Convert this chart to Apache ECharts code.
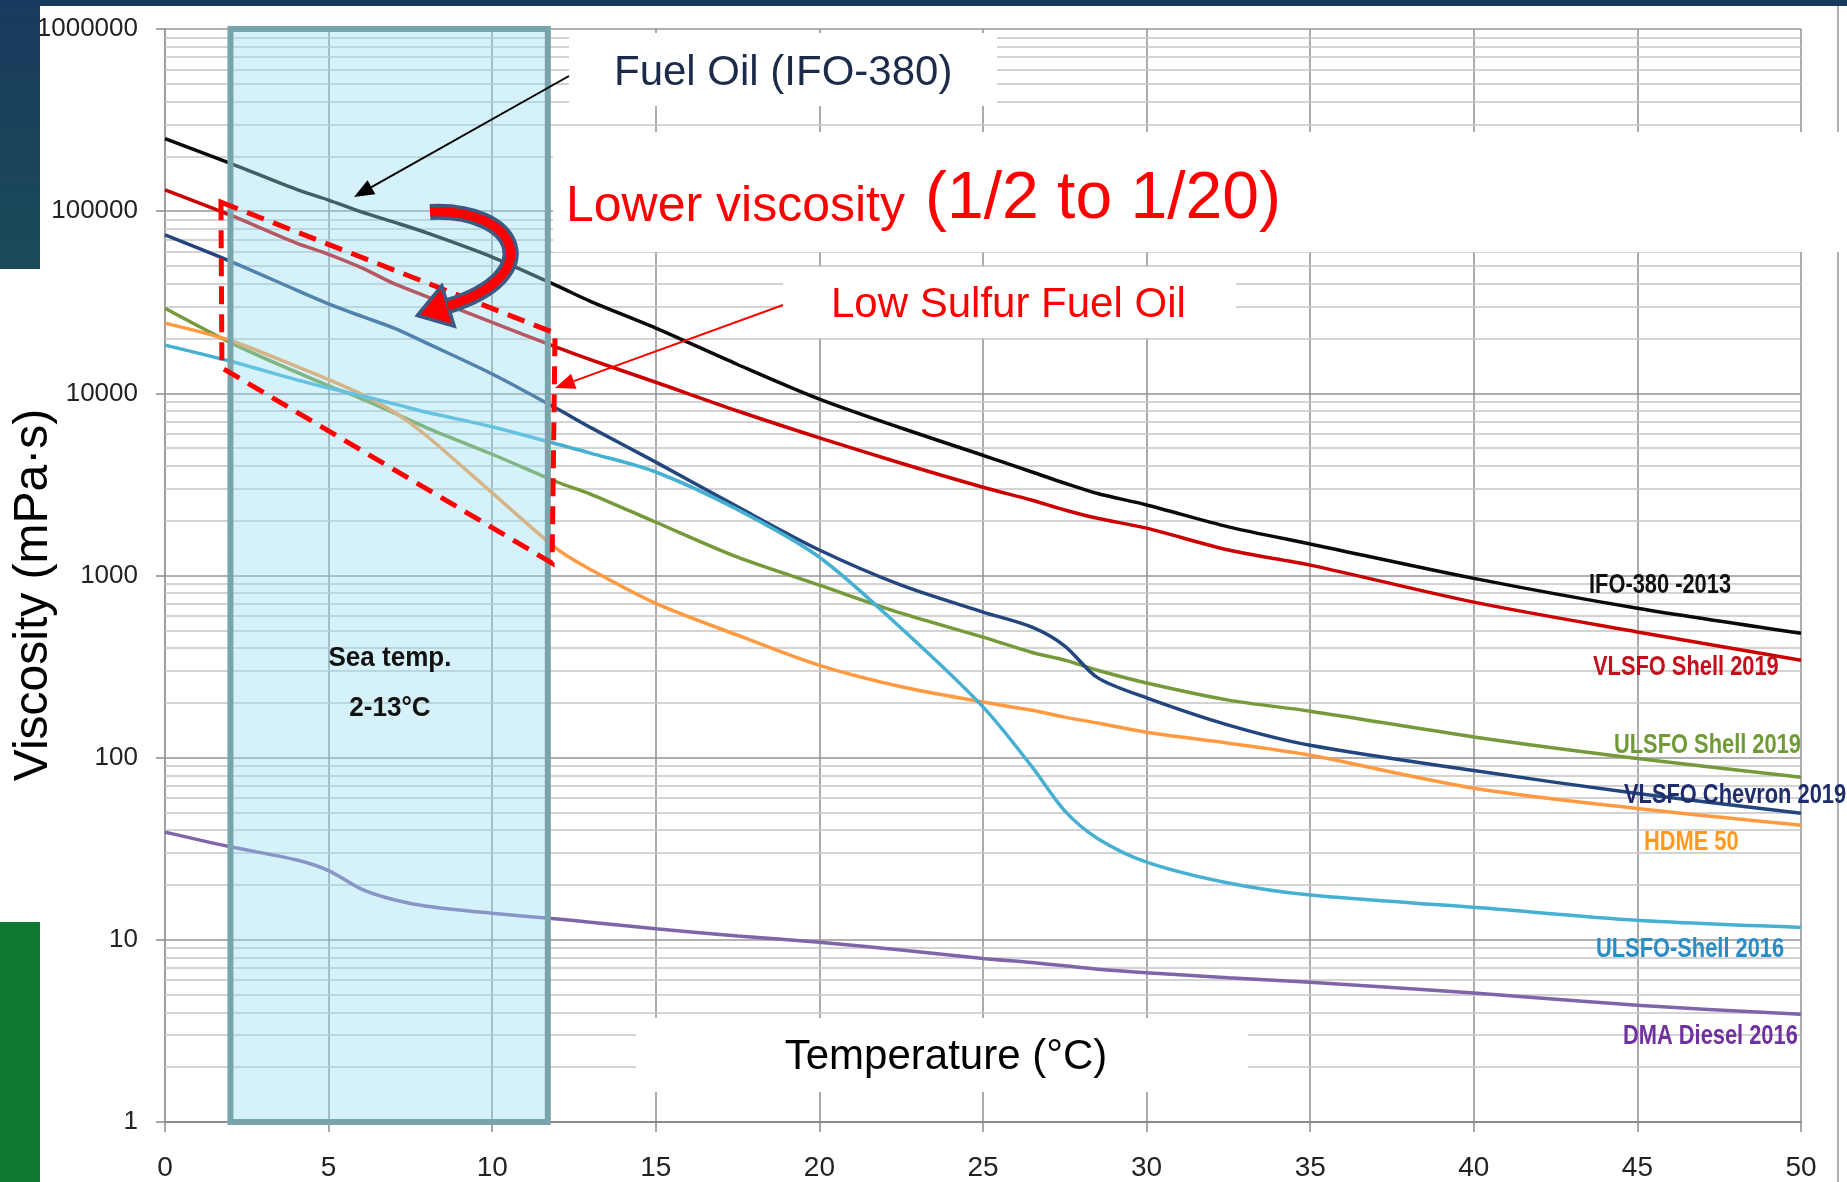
<!DOCTYPE html>
<html>
<head>
<meta charset="utf-8">
<title>Viscosity vs Temperature</title>
<script src="https://cdn.jsdelivr.net/npm/echarts@6/dist/echarts.min.js"></script>
<style>
  html, body { margin: 0; padding: 0; background: #ffffff; }
  #chart { width: 1847px; height: 1182px; }
</style>
</head>
<body>
<div id="chart"></div>
<script>
// Temperature samples (°C) shared by every curve
const temperatures = [0, 2, 4, 5, 6, 7, 8, 10, 12, 13, 15, 17.5, 20, 22.5, 25, 26.5, 27.5, 28.5, 30, 32.5, 35, 40, 45, 50];

// Viscosity (mPa·s) of each fuel at the temperatures above
const ifo380_2013      = [250000, 183000, 132000, 115000, 99000, 87000, 76000, 56000, 38800, 32000, 22800, 14400, 9300, 6450, 4570, 3700, 3210, 2820, 2440, 1850, 1490, 964, 661, 482];
const vlsfoShell2019   = [131000, 95000, 67000, 58000, 49000, 40000, 34000, 24500, 17800, 15300, 11500, 8000, 5700, 4130, 3050, 2590, 2290, 2060, 1820, 1380, 1140, 714, 490, 343];
const ulsfoShell2019   = [29300, 19000, 13100, 11000, 9350, 7800, 6470, 4630, 3250, 2800, 1960, 1260, 885, 621, 459, 378, 343, 302, 257, 207, 180, 130, 99, 78];
const vlsfoChevron2019 = [74000, 53000, 37000, 31000, 26500, 22800, 18850, 12770, 8200, 6500, 4190, 2380, 1380, 885, 630, 520, 410, 275, 213, 151, 117, 85, 63.5, 49.5];
const hdme50           = [24300, 19500, 14100, 11900, 9900, 7900, 5830, 2840, 1390, 1080, 703, 470, 321, 245, 202, 182, 167, 155, 138, 120, 103, 68, 52.6, 42.6];
const ulsfoShell2016   = [18400, 15000, 11900, 10700, 9700, 8750, 7870, 6550, 5250, 4700, 3700, 2300, 1260, 513, 190, 89, 51, 36, 26.7, 20.5, 17.6, 15.1, 12.8, 11.7];
const dmaDiesel2016    = [39, 32.4, 27.5, 24, 19, 16.6, 15.3, 14, 13, 12.5, 11.5, 10.5, 9.7, 8.8, 7.9, 7.5, 7.2, 6.9, 6.6, 6.2, 5.85, 5.1, 4.37, 3.9];

// Series names
const seriesNames = ['IFO-380 -2013', 'VLSFO Shell 2019', 'ULSFO Shell 2019', 'VLSFO Chevron 2019', 'HDME 50', 'ULSFO-Shell 2016', 'DMA Diesel 2016'];
const seriesValues = [ifo380_2013, vlsfoShell2019, ulsfoShell2019, vlsfoChevron2019, hdme50, ulsfoShell2016, dmaDiesel2016];

// Sea temperature band (°C)
const seaTempBand = [2, 11.7];

// Log-scale minor gridlines: 2..9 within each decade
const decades = [1, 10, 100, 1000, 10000, 100000];
const minorMultipliers = [2, 3, 4, 5, 6, 7, 8, 9];

// ---- styling ----
const lineColors = ['#0a0a0a', '#cc0000', '#76993a', '#23467f', '#ff9a40', '#45b0d2', '#8064a8'];
const labelColors = ['#111111', '#c4101c', '#6f9a35', '#1f2d6b', '#ff9a1f', '#2a8cc4', '#7030a0'];
// label anchor: left x, middle y (pixels)
const labelPos = [[1589, 585], [1593, 667], [1614, 745], [1624, 795], [1644, 842], [1596, 949], [1623, 1036]];

const minorGridValues = [];
decades.forEach(d => minorMultipliers.forEach(m => minorGridValues.push(m * d)));

const chart = echarts.init(document.getElementById('chart'), null, { renderer: 'canvas' });

const curveSeries = seriesNames.map((name, i) => ({
  name: name,
  type: 'line',
  data: temperatures.map((t, k) => [t, seriesValues[i][k]]),
  showSymbol: false,
  smooth: 0.3,
  lineStyle: { color: lineColors[i], width: 3.5 },
  z: 3,
  silent: true
}));

const option = {
  animation: false,
  backgroundColor: '#ffffff',
  grid: { left: 165, top: 29, width: 1636, height: 1093, containLabel: false },
  xAxis: {
    type: 'value',
    min: 0, max: 50, interval: 5,
    axisLine: { show: true, lineStyle: { color: '#8a8a8a', width: 2 } },
    axisTick: { show: true, length: 10, lineStyle: { color: '#8a8a8a', width: 1.5 } },
    axisLabel: { margin: 32, fontFamily: 'Liberation Sans', fontSize: 28, color: '#222222' },
    splitLine: { show: true, lineStyle: { color: '#969696', width: 1.6 } }
  },
  yAxis: {
    type: 'log', logBase: 10,
    min: 1, max: 1000000, splitNumber: 6,
    axisLine: { show: true, lineStyle: { color: '#9a9a9a', width: 1.5 } },
    axisTick: { show: true, length: 9, lineStyle: { color: '#8a8a8a', width: 1.5 } },
    axisLabel: {
      margin: 27, fontFamily: 'Liberation Sans', fontSize: 26, color: '#222222',
      formatter: v => String(Math.round(v))
    },
    splitLine: { show: true, lineStyle: { color: '#969696', width: 1.6 } }
  },
  series: [
    {
      // minor log gridlines
      type: 'line', data: [], z: 1, silent: true,
      markLine: {
        z: 1,
        silent: true, symbol: ['none', 'none'], animation: false,
        label: { show: false },
        lineStyle: { type: 'solid', color: '#c4c4c4', width: 1.6 },
        emphasis: { disabled: true },
        data: minorGridValues.map(v => ({ yAxis: v }))
      }
    },
    ...curveSeries,
    {
      // sea temperature band, drawn over the curves
      type: 'line', data: [], z: 10, silent: true,
      markArea: {
        z: 10,
        silent: true,
        label: { show: false },
        itemStyle: { color: 'rgba(150,222,246,0.40)', borderColor: '#78a5ac', borderWidth: 6 },
        emphasis: { disabled: true },
        data: [[{ xAxis: seaTempBand[0], yAxis: 1 }, { xAxis: seaTempBand[1], yAxis: 1000000 }]]
      }
    }
  ]
};

chart.setOption(option);

// ---------- annotations ----------
const toPx = p => chart.convertToPixel({ xAxisIndex: 0, yAxisIndex: 0 }, p);

function textEl(text, x, y, font, fill, align, extra) {
  return Object.assign({
    type: 'text', x: x, y: y, z: 30, silent: true,
    style: {
      text: text, font: font, fill: fill,
      align: align, textAlign: align,
      verticalAlign: 'middle', textVerticalAlign: 'middle'
    }
  }, extra || {});
}

function arrowHeadPoints(from, tip, len, half) {
  const dx = tip[0] - from[0], dy = tip[1] - from[1];
  const d = Math.hypot(dx, dy);
  const ux = dx / d, uy = dy / d;
  const bx = tip[0] - ux * len, by = tip[1] - uy * len;
  return {
    base: [bx, by],
    points: [tip, [bx - uy * half, by + ux * half], [bx + uy * half, by - ux * half]]
  };
}

const whiteBox = (x, y, w, h) => ({
  type: 'rect', z: 6, silent: true,
  shape: { x: x, y: y, width: w, height: h },
  style: { fill: '#ffffff' }
});

// dashed outline around the low-sulfur curves in the sea-temperature band
const dashedCorners = [[1.71, 112000], [11.92, 21400], [11.83, 1170], [1.74, 13800]].map(toPx);

// straight pointer arrows
const blackFrom = [569, 76], blackTip = [354, 197];
const blackHead = arrowHeadPoints(blackFrom, blackTip, 20, 8);
const redFrom = [783, 305], redTip = [555, 388];
const redHead = arrowHeadPoints(redFrom, redTip, 20, 8);

// curved "lower viscosity" arrow
const cb = { x1: 430, y1: 212, cpx1: 518, cpy1: 208, cpx2: 548, cpy2: 275, x2: 448, y2: 306 };
const cDir = (() => { const dx = cb.x2 - cb.cpx2, dy = cb.y2 - cb.cpy2, d = Math.hypot(dx, dy); return [dx / d, dy / d]; })();
const cTip = [cb.x2 + cDir[0] * 32, cb.y2 + cDir[1] * 32];
const cHead = [cTip, [cb.x2 - cDir[1] * 21, cb.y2 + cDir[0] * 21], [cb.x2 + cDir[1] * 21, cb.y2 - cDir[0] * 21]];

const graphics = [
  // page decoration
  { type: 'rect', z: 40, silent: true, shape: { x: 0, y: 0, width: 1847, height: 6 }, style: { fill: '#173a5e' } },
  { type: 'rect', z: 40, silent: true, shape: { x: 0, y: 0, width: 40, height: 269 },
    style: { fill: new echarts.graphic.LinearGradient(0, 0, 0, 1, [{ offset: 0, color: '#183a5e' }, { offset: 1, color: '#1b4b58' }]) } },
  { type: 'rect', z: 40, silent: true, shape: { x: 0, y: 922, width: 40, height: 260 }, style: { fill: '#0e7a31' } },
  { type: 'line', z: 7, silent: true, shape: { x1: 1838, y1: 6, x2: 1838, y2: 132 }, style: { stroke: '#b0b0b0', lineWidth: 2 } },
  { type: 'line', z: 7, silent: true, shape: { x1: 1838, y1: 252, x2: 1838, y2: 1182 }, style: { stroke: '#b0b0b0', lineWidth: 2 } },

  // white backgrounds behind callouts
  whiteBox(569, 33, 428, 73),
  whiteBox(553, 132, 1294, 120),
  whiteBox(783, 267, 453, 71),
  whiteBox(636, 1018, 612, 74),

  // callout texts
  textEl('Fuel Oil (IFO-380)', 614, 73, '42px "Liberation Sans", Arial, sans-serif', '#1c2b4a', 'left'),
  textEl('Lower viscosity', 566, 207, '50px "Liberation Sans", Arial, sans-serif', '#ff0000', 'left'),
  textEl('(1/2 to 1/20)', 925, 200, '66px "Liberation Sans", Arial, sans-serif', '#ff0000', 'left'),
  textEl('Low Sulfur Fuel Oil', 831, 305, '42px "Liberation Sans", Arial, sans-serif', '#ff0000', 'left'),
  textEl('Temperature (°C)', 946, 1057, '42px "Liberation Sans", Arial, sans-serif', '#000000', 'center'),
  textEl('Viscosity (mPa·s)', 34, 595, '48px "Liberation Sans", Arial, sans-serif', '#000000', 'center', { rotation: Math.PI / 2 }),
  textEl('Sea temp.', 390, 658, 'bold 28px "Liberation Sans", Arial, sans-serif', '#111111', 'center', { scaleX: 0.93 }),
  textEl('2-13°C', 390, 708, 'bold 28px "Liberation Sans", Arial, sans-serif', '#111111', 'center', { scaleX: 0.93 }),

  // dashed outline
  { type: 'polygon', z: 20, silent: true, shape: { points: dashedCorners },
    style: { fill: 'none', stroke: '#ff0000', lineWidth: 5, lineDash: [18, 10] } },

  // black pointer to the IFO-380 curve
  { type: 'line', z: 21, silent: true, shape: { x1: blackFrom[0], y1: blackFrom[1], x2: blackHead.base[0], y2: blackHead.base[1] },
    style: { stroke: '#000000', lineWidth: 2 } },
  { type: 'polygon', z: 21, silent: true, shape: { points: blackHead.points }, style: { fill: '#000000' } },

  // red pointer to the low-sulfur group
  { type: 'line', z: 21, silent: true, shape: { x1: redFrom[0], y1: redFrom[1], x2: redHead.base[0], y2: redHead.base[1] },
    style: { stroke: '#ff0000', lineWidth: 2 } },
  { type: 'polygon', z: 21, silent: true, shape: { points: redHead.points }, style: { fill: '#ff0000' } },

  // curved arrow: outline, head, body
  { type: 'bezierCurve', z: 22, silent: true, shape: cb, style: { fill: 'none', stroke: '#3c5a84', lineWidth: 16, lineCap: 'butt' } },
  { type: 'polygon', z: 23, silent: true, shape: { points: cHead }, style: { fill: '#ff0000', stroke: '#3c5a84', lineWidth: 3.5, lineJoin: 'miter' } },
  { type: 'bezierCurve', z: 24, silent: true, shape: cb, style: { fill: 'none', stroke: '#ff0000', lineWidth: 9, lineCap: 'butt' } }
];

// curve name labels at the right
seriesNames.forEach((name, i) => {
  graphics.push(textEl(name, labelPos[i][0], labelPos[i][1], 'bold 28px "Liberation Sans", Arial, sans-serif', labelColors[i], 'left', { scaleX: 0.78 }));
});

chart.setOption({ graphic: graphics });
</script>
</body>
</html>
